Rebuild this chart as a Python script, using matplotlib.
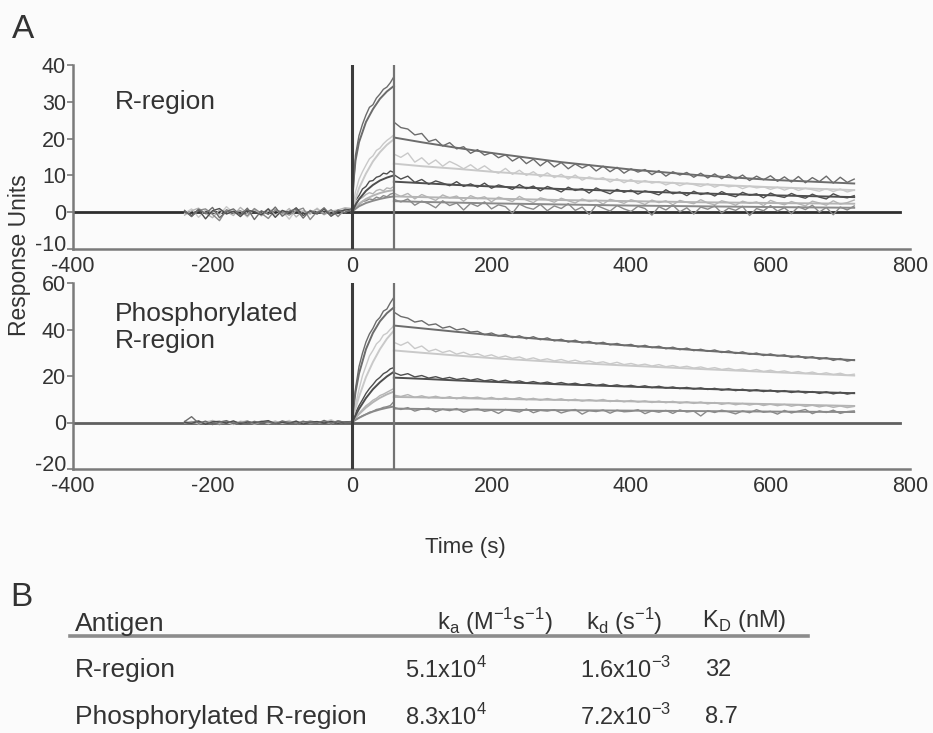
import matplotlib
matplotlib.use("Agg")
import matplotlib.pyplot as plt
from matplotlib.lines import Line2D
from matplotlib.transforms import ScaledTranslation

plt.rcParams['font.family'] = ['Liberation Sans', 'DejaVu Sans']
plt.rcParams['mathtext.fontset'] = 'custom'
plt.rcParams['mathtext.rm'] = 'Liberation Sans'
plt.rcParams['axes.unicode_minus'] = False

# ---------------- time grids (s) ----------------
t_base = list(range(-240, 0, 10))       # 24 points
t_assoc = list(range(0, 61, 5))         # 13 points
t_diss = list(range(60, 721, 10))       # 67 points
t_fit_assoc = [0, 2, 5, 10, 20, 30, 40, 50, 60]
t_fit_diss = [60, 100, 150, 200, 300, 400, 500, 600, 720]

trace_colors = ['#6c6c6c', '#c9c9c9', '#4e4e4e', '#b4b4b4', '#8a8a8a']

# ---------------- R-region (upper panel) ----------------
r_base = [
    [0.5, -1.2, 0.8, -0.4, 1.3, -1.5, 0.2, 0.9, -0.8, 1.1, -2.0, 0.4,
     -0.6, 1.4, -1.1, 0.3, 0.8, -1.6, 0.5, -0.3, 1.2, -0.9, 0.6, -0.2],
    [-0.3, 0.9, -1.4, 0.6, 0.1, -0.7, 1.5, -0.2, 0.4, -1.3, 0.8, -0.5,
     1.0, -0.8, 0.3, -1.9, 0.7, 0.2, -0.6, 1.1, -0.4, 0.5, -1.0, 0.4],
    [0.2, -0.9, 0.7, -1.8, 0.4, 1.0, -0.5, 0.3, -1.2, 0.6, 0.1, -0.7,
     0.9, -1.4, 0.5, -0.2, 1.2, -0.9, 0.3, -0.5, 0.8, -1.1, 0.2, 0.6],
    [-0.8, 0.4, 1.1, -0.3, -1.5, 0.6, 0.2, -0.9, 1.3, -0.4, 0.7, -1.0,
     0.3, 0.8, -0.6, 1.0, -1.3, 0.4, -0.1, 0.9, -0.7, 0.3, 0.6, 1.2],
    [0.3, -1.1, 0.5, 0.9, -0.6, -2.3, 0.7, -0.2, 0.4, -1.0, 1.0, -0.3,
     -1.7, 0.6, 0.1, -0.8, 0.4, 1.1, -2.0, 0.2, -0.5, 0.7, -1.2, 0.9],
]
r_assoc = [
    [1.0, 15.5, 20.8, 23.9, 26.4, 28.5, 29.2, 31.0, 32.1, 33.4, 34.0, 35.2, 36.8],
    [0.5, 5.5, 8.9, 11.0, 12.8, 14.5, 15.3, 16.8, 17.4, 18.6, 19.5, 20.2, 21.0],
    [0.8, 3.2, 4.5, 6.3, 7.0, 8.4, 8.6, 9.5, 9.8, 10.6, 10.4, 11.2, 10.8],
    [1.0, 2.4, 3.5, 4.0, 4.8, 5.3, 5.0, 5.9, 6.2, 5.8, 6.6, 6.4, 7.0],
    [0.5, 1.6, 2.0, 2.9, 3.1, 3.6, 3.4, 4.1, 3.8, 4.5, 4.2, 4.9, 5.2],
]
r_diss = [
    [24.5,
     23.0, 22.6, 21.0, 21.4, 19.2, 19.8, 18.0, 18.9, 17.2, 17.8, 16.0,
     17.0, 15.5, 16.2, 14.8, 15.6, 13.9, 15.0, 13.2, 14.4, 12.6, 14.0,
     12.3, 13.5, 11.8, 13.1, 12.0, 12.9, 11.2, 12.5, 11.0, 12.2, 10.6,
     11.8, 10.9, 11.6, 10.2, 11.3, 9.8, 11.0, 10.1, 10.8, 9.5, 10.6,
     9.3, 10.4, 9.1, 10.2, 9.0, 10.1, 8.6, 9.8, 8.8, 9.9, 8.4,
     9.6, 8.2, 9.7, 8.0, 9.4, 8.3, 9.8, 7.9, 9.5, 8.1, 9.0],
    [15.8,
     14.9, 16.1, 13.6, 14.8, 13.0, 14.2, 12.5, 13.8, 12.9, 11.8, 12.9,
     11.5, 12.6, 11.2, 10.6, 11.9, 10.3, 11.4, 10.0, 11.0, 9.6, 10.7,
     9.4, 10.3, 9.0, 10.1, 8.7, 9.6, 8.9, 9.4, 8.2, 9.1, 8.0,
     8.9, 7.8, 8.6, 7.9, 8.3, 7.4, 8.1, 7.2, 7.9, 7.5, 7.0,
     7.7, 6.8, 7.5, 6.9, 7.2, 6.4, 7.1, 6.6, 6.9, 6.2, 6.8,
     6.0, 6.7, 5.9, 6.5, 6.1, 5.7, 6.4, 5.6, 6.3, 5.5, 6.0],
    [10.2,
     9.0, 9.8, 8.1, 8.9, 7.6, 8.5, 7.9, 7.2, 8.3, 7.0, 7.7,
     6.8, 7.9, 6.5, 7.4, 6.9, 6.2, 7.5, 6.4, 7.1, 5.8, 7.0,
     6.3, 5.5, 6.8, 5.9, 6.4, 5.2, 6.6, 5.7, 5.0, 6.2, 5.4,
     6.0, 4.9, 5.8, 5.3, 4.7, 6.1, 5.0, 5.5, 4.5, 5.7, 4.8,
     5.3, 4.4, 5.6, 4.7, 4.2, 5.4, 4.6, 5.0, 3.9, 5.2, 4.4,
     4.0, 5.1, 4.3, 3.8, 4.9, 4.1, 3.6, 5.0, 4.2, 3.9, 4.5],
    [5.2,
     4.3, 5.1, 3.6, 4.8, 4.0, 3.2, 4.7, 3.9, 4.4, 3.0, 4.5,
     3.7, 4.2, 2.8, 4.1, 3.5, 2.9, 4.3, 3.3, 2.6, 3.9, 3.4,
     2.7, 3.8, 3.1, 2.5, 3.6, 2.9, 3.3, 2.2, 3.5, 3.0, 2.4,
     3.4, 2.8, 2.1, 3.3, 2.6, 3.1, 2.0, 3.2, 2.7, 2.3, 3.4,
     2.5, 2.0, 3.1, 2.6, 1.9, 3.0, 2.4, 2.8, 1.8, 3.2, 2.5,
     2.0, 2.9, 2.3, 1.7, 3.0, 2.5, 1.9, 3.1, 2.2, 2.6, 3.3],
    [3.5,
     2.8, 3.6, 1.9, 3.0, 2.3, 1.2, 3.1, 1.8, 2.5, 0.6, 2.4,
     1.6, 2.8, 0.9, 2.0, 1.5, -0.3, 2.2, 1.3, 0.8, 2.1, 0.4,
     1.7, 1.0, 2.3, 0.5, 1.4, -0.6, 1.9, 1.1, 0.3, 1.8, 0.9,
     0.2, 1.6, 1.0, -0.8, 1.5, 0.6, 1.9, 0.1, 1.2, -0.5, 1.4,
     0.8, 1.7, -0.2, 1.1, 0.5, 1.6, -0.9, 1.0, 0.4, 1.8, 0.3,
     1.2, -0.4, 1.5, 0.7, 1.9, 0.0, 1.3, -0.7, 1.4, 0.6, 1.7],
]
r_fit_assoc = [
    [0, 8.0, 14.0, 19.0, 24.5, 28.0, 30.8, 32.8, 34.3],
    [0, 1.5, 3.5, 6.5, 10.5, 13.8, 16.3, 18.3, 19.8],
    [0, 0.8, 2.0, 3.5, 5.8, 7.4, 8.6, 9.4, 10.0],
    [0, 0.6, 1.3, 2.3, 3.6, 4.5, 5.2, 5.7, 6.0],
    [0, 0.4, 0.9, 1.6, 2.5, 3.1, 3.6, 4.0, 4.3],
]
r_fit_diss = [
    [20.3, 19.0, 17.5, 16.1, 13.6, 11.6, 10.0, 8.8, 7.8],
    [13.2, 12.5, 11.8, 11.0, 9.7, 8.5, 7.6, 6.8, 6.0],
    [8.3, 7.9, 7.4, 7.0, 6.3, 5.7, 5.1, 4.6, 4.1],
    [4.3, 4.1, 3.9, 3.7, 3.3, 3.0, 2.7, 2.5, 2.3],
    [3.0, 2.8, 2.6, 2.4, 2.1, 1.8, 1.6, 1.4, 1.2],
]

# ---------------- Phosphorylated R-region (lower panel) ----------------
p_base = [
    [0.4, 2.5, -0.3, 0.6, -0.9, 0.2, 0.8, -0.5, 0.1, -0.7, 0.5, -0.2,
     0.3, -0.6, 0.7, -0.1, -0.8, 0.4, 0.2, -0.4, 0.9, -0.3, 0.6, 0.1],
    [-0.2, 0.5, -0.6, 0.3, 0.8, -0.4, 0.1, -0.9, 0.6, 0.2, -0.3, 0.7,
     -0.5, 0.4, -0.1, 0.9, -0.7, 0.3, 0.5, -0.2, 0.1, 1.2, -0.4, 0.3],
    [0.1, -0.4, 0.6, -0.8, 0.3, 0.5, -0.2, 0.7, -0.6, 0.2, -0.1, 0.4,
     0.8, -0.5, 0.1, -0.3, 0.6, -0.7, 0.2, 0.4, -0.2, 0.5, -0.4, 0.2],
    [0.5, -0.3, 0.2, -0.6, 0.9, -0.2, 0.4, -0.5, 0.1, 0.7, -0.8, 0.3,
     -0.2, 0.6, -0.4, 0.2, 0.5, -0.6, 0.8, -0.1, 0.3, -0.5, 0.6, 0.1],
    [-0.3, 0.2, 0.7, -0.5, 0.1, -0.9, 0.4, 0.3, -0.2, 0.6, -0.4, 0.1,
     0.5, -0.7, 0.3, 0.2, -0.3, 0.6, -0.5, 0.1, 0.4, -0.2, 0.7, 0.0],
]
p_assoc = [
    [0.5, 14.5, 24.0, 29.8, 34.6, 38.1, 40.5, 43.6, 45.2, 47.9, 48.8, 51.5, 53.8],
    [0.3, 7.5, 14.2, 20.1, 24.3, 28.6, 31.0, 33.8, 35.2, 37.6, 38.4, 40.1, 41.5],
    [0.4, 4.1, 7.2, 9.8, 12.5, 14.6, 16.3, 18.2, 19.4, 21.0, 21.8, 23.1, 23.6],
    [0.2, 2.1, 4.0, 5.6, 7.2, 8.3, 9.6, 10.4, 11.6, 12.2, 13.0, 13.8, 14.6],
    [0.1, 1.2, 2.0, 2.9, 3.5, 4.4, 4.8, 5.6, 5.9, 6.5, 6.8, 7.3, 9.0],
]
p_diss = [
    [47.5,
     45.6, 44.9, 43.2, 43.8, 41.9, 42.4, 40.6, 41.3, 39.8, 40.4, 38.9,
     39.2, 37.8, 38.5, 37.2, 37.9, 36.5, 37.3, 36.0, 36.9, 35.6, 36.4,
     35.1, 35.8, 34.6, 35.4, 34.2, 34.9, 33.8, 34.5, 33.4, 34.0, 33.1,
     33.6, 32.5, 33.2, 32.2, 32.8, 31.7, 32.4, 31.3, 32.0, 30.9, 31.5,
     30.6, 31.2, 30.1, 30.8, 29.7, 30.4, 29.3, 29.9, 28.8, 29.5, 28.6,
     29.1, 28.0, 28.7, 27.6, 28.3, 27.2, 27.9, 26.7, 27.5, 26.4, 27.0],
    [34.5,
     33.2, 34.6, 31.8, 32.9, 30.6, 31.5, 30.1, 30.9, 29.4, 30.2, 29.0,
     29.6, 28.4, 29.1, 27.9, 28.6, 27.6, 28.2, 27.1, 27.8, 26.8, 27.4,
     26.5, 27.1, 26.2, 26.8, 25.9, 26.5, 25.6, 26.1, 25.2, 25.9, 24.9,
     25.4, 24.6, 25.1, 24.3, 24.9, 24.0, 24.5, 23.7, 24.2, 23.4, 23.9,
     23.1, 23.6, 22.8, 23.3, 22.5, 23.0, 22.2, 22.8, 21.9, 22.5, 21.7,
     22.2, 21.4, 21.9, 21.1, 21.7, 20.8, 21.4, 20.6, 21.2, 20.3, 20.8],
    [21.5,
     20.3, 21.0, 19.6, 20.2, 19.1, 19.7, 18.8, 19.4, 18.5, 19.0, 18.2,
     18.8, 17.9, 18.4, 17.6, 18.2, 17.3, 17.9, 17.0, 17.6, 16.8, 17.4,
     16.6, 17.2, 16.4, 16.9, 16.1, 16.7, 15.9, 16.5, 15.7, 16.2, 15.5,
     16.0, 15.3, 15.8, 15.0, 15.6, 14.8, 15.3, 14.6, 15.1, 14.4, 14.9,
     14.2, 14.7, 13.9, 14.5, 13.7, 14.3, 13.5, 14.1, 13.3, 13.9, 13.1,
     13.7, 12.9, 13.5, 12.7, 13.3, 12.5, 13.2, 12.3, 13.0, 12.2, 12.8],
    [11.8,
     11.2, 12.0, 10.8, 11.5, 10.6, 11.3, 10.4, 11.1, 10.2, 11.0, 10.5,
     10.9, 10.1, 10.8, 9.9, 10.6, 10.0, 10.7, 9.8, 10.4, 9.6, 10.3,
     9.7, 10.2, 9.4, 10.0, 9.2, 9.8, 9.3, 9.9, 9.0, 9.6, 8.9,
     9.5, 8.8, 9.3, 8.6, 9.2, 8.5, 9.1, 8.3, 8.9, 8.2, 8.8,
     8.0, 8.6, 7.8, 8.4, 7.6, 8.2, 7.5, 8.1, 7.3, 7.9, 7.2,
     7.8, 7.0, 7.6, 6.9, 7.4, 6.7, 7.3, 6.5, 7.1, 6.4, 6.9],
    [6.5,
     5.6, 6.4, 4.9, 5.8, 6.2, 4.6, 5.7, 5.1, 6.0, 4.4, 5.5,
     5.9, 4.8, 5.3, 3.9, 5.6, 5.0, 4.5, 5.8, 4.2, 5.2, 4.9,
     5.5, 4.1, 5.0, 5.6, 3.6, 5.1, 4.7, 5.4, 4.0, 5.3, 4.6,
     4.8, 5.5, 3.8, 5.0, 4.4, 5.2, 3.9, 5.4, 4.5, 4.9, 2.8,
     5.1, 4.3, 5.3, 4.6, 3.7, 5.0, 4.2, 5.5, 4.4, 4.8, 3.6,
     5.2, 4.1, 4.9, 5.6, 3.8, 5.0, 4.3, 5.3, 3.9, 4.7, 5.0],
]
p_fit_assoc = [
    [0, 6.0, 13.0, 21.0, 31.5, 38.5, 43.5, 47.0, 49.5],
    [0, 2.5, 6.0, 11.0, 19.5, 26.0, 31.5, 36.0, 39.5],
    [0, 1.2, 3.0, 5.8, 10.5, 14.3, 17.3, 19.8, 21.8],
    [0, 0.8, 1.9, 3.6, 6.4, 8.7, 10.6, 12.1, 13.3],
    [0, 0.5, 1.1, 2.0, 3.5, 4.7, 5.6, 6.3, 6.9],
]
p_fit_diss = [
    [41.7, 40.5, 39.0, 37.6, 35.2, 33.0, 31.0, 29.0, 26.8],
    [31.0, 30.0, 28.8, 27.7, 25.9, 24.4, 23.0, 21.7, 20.2],
    [19.3, 18.8, 18.1, 17.5, 16.4, 15.4, 14.5, 13.6, 12.6],
    [11.0, 10.8, 10.5, 10.2, 9.7, 9.1, 8.5, 7.9, 7.1],
    [6.0, 5.8, 5.6, 5.5, 5.3, 5.1, 4.9, 4.7, 4.5],
]

# ---------------- kinetics table ----------------
table_header = ['Antigen',
                r'k$_\mathregular{a}$ (M$^\mathregular{-1}$s$^\mathregular{-1}$)',
                r'k$_\mathregular{d}$ (s$^\mathregular{-1}$)',
                r'K$_\mathregular{D}$ (nM)']
antigens = ['R-region', 'Phosphorylated R-region']
ka_values = [r'5.1x10$^\mathregular{4}$', r'8.3x10$^\mathregular{4}$']
kd_values = [r'1.6x10$^\mathregular{-3}$', r'7.2x10$^\mathregular{-3}$']
KD_values = ['32', '8.7']

BG = '#fbfbfb'
TXT = '#333333'
fig = plt.figure(figsize=(9.33, 7.33), dpi=100, facecolor=BG)

ax1 = fig.add_axes([73 / 933, 1 - 249 / 733, 837 / 933, 184 / 733])
ax2 = fig.add_axes([73 / 933, 1 - 469 / 733, 837 / 933, 186 / 733])

TICK_FS = 15.5


def draw_panel(ax, base, assoc, diss, fit_a, fit_d, ylim, yticks, zero_color, label):
    ax.set_facecolor(BG)
    ax.set_xlim(-400, 800)
    ax.set_ylim(*ylim)
    ax.set_yticks(yticks)
    ax.set_xticks([-400, -200, 0, 200, 400, 600, 800])
    for s in ['top', 'right']:
        ax.spines[s].set_visible(False)
    for s in ['left', 'bottom']:
        ax.spines[s].set_color('#7a7a7a')
        ax.spines[s].set_linewidth(1.8)
    ax.tick_params(axis='y', length=4, width=1.2, color='#7a7a7a',
                   labelsize=TICK_FS, pad=1, labelcolor=TXT)
    ax.tick_params(axis='x', length=0, labelsize=TICK_FS, pad=5,
                   labelcolor=TXT)
    # lowest y label sits slightly higher, as in the original figure
    low = ax.get_yticklabels()[0]
    low.set_transform(low.get_transform() + ScaledTranslation(0, 4 / 72, fig.dpi_scale_trans))
    ax.axhline(0, xmin=0, xmax=(785 + 400) / 1200, color=zero_color, lw=2.0, zorder=1)
    ax.axvline(0, color='#3c3c3c', lw=2.2, zorder=5)
    ax.axvline(60, color='#737373', lw=1.6, zorder=5)
    order = [1, 3, 4, 2, 0]
    for i in order:
        c = trace_colors[i]
        ax.plot(t_base + t_assoc + t_diss, base[i] + assoc[i] + diss[i],
                color=c, lw=1.0, zorder=2)
        ax.plot(t_fit_assoc, fit_a[i], color=c, lw=1.4, zorder=3)
        ax.plot(t_fit_diss, fit_d[i], color=c, lw=1.4, zorder=3)
    ax.text(-340, label[1], label[0], fontsize=19, color=TXT,
            va='center', ha='left', linespacing=1.15)


draw_panel(ax1, r_base, r_assoc, r_diss, r_fit_assoc, r_fit_diss,
           (-10, 40), [-10, 0, 10, 20, 30, 40], '#2e2e2e', ('R-region', 30))
draw_panel(ax2, p_base, p_assoc, p_diss, p_fit_assoc, p_fit_diss,
           (-20, 60), [-20, 0, 20, 40, 60], '#606060', ('Phosphorylated\nR-region', 41))

fig.text(0.021, 1 - 255 / 733, 'Response Units', rotation=90, fontsize=16.5,
         color=TXT, ha='center', va='center')
fig.text(465 / 933, 1 - 548 / 733, 'Time (s)', fontsize=16, color=TXT,
         ha='center', va='center')

fig.text(12 / 933, 1 - 30 / 733, 'A', fontsize=24, color=TXT, ha='left', va='center')
fig.text(10 / 933, 1 - 598 / 733, 'B', fontsize=24, color=TXT, ha='left', va='center')

TFS = 19
NFS = 17
col_x_head = [75, 437, 586, 702]
col_x_val = [75, 405, 580, 705]
y_head = 1 - 624 / 733
fig.text(col_x_head[0] / 933, y_head, table_header[0], fontsize=TFS, color=TXT,
         ha='left', va='center')
for j in range(1, 4):
    fig.text(col_x_head[j] / 933, y_head + 0.004, table_header[j], fontsize=NFS,
             color=TXT, ha='left', va='center')
fig.add_artist(Line2D([70 / 933, 808 / 933], [1 - 636 / 733] * 2, color='#8c8c8c', lw=2.6))
row_y = [1 - 670 / 733, 1 - 717 / 733]
for r in range(2):
    fig.text(col_x_val[0] / 933, row_y[r], antigens[r], fontsize=TFS, color=TXT,
             ha='left', va='center')
    fig.text(col_x_val[1] / 933, row_y[r], ka_values[r], fontsize=NFS, color=TXT,
             ha='left', va='center')
    fig.text(col_x_val[2] / 933, row_y[r], kd_values[r], fontsize=NFS, color=TXT,
             ha='left', va='center')
    fig.text(col_x_val[3] / 933, row_y[r], KD_values[r], fontsize=NFS, color=TXT,
             ha='left', va='center')

fig.savefig('out.png', dpi=100, facecolor=BG)
